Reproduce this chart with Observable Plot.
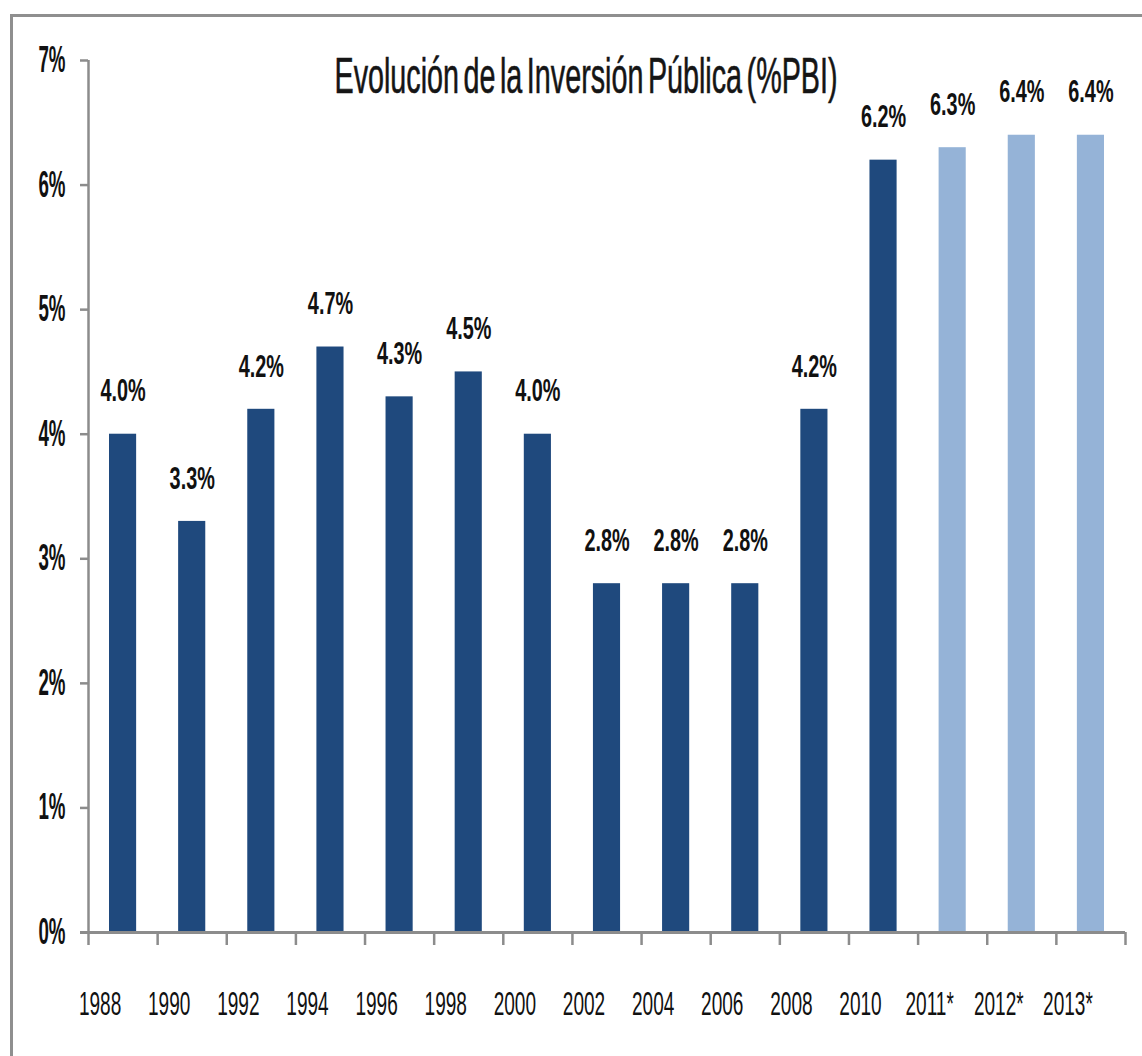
<!DOCTYPE html>
<html>
<head>
<meta charset="utf-8">
<script src="https://cdn.jsdelivr.net/npm/d3@7"></script>
<script src="https://cdn.jsdelivr.net/npm/@observablehq/plot@0.6"></script>
<style>
  html, body { margin: 0; padding: 0; background: #fff; }
  #wrap { position: relative; width: 1142px; height: 1056px; overflow: hidden; background: #fff; font-family: "Liberation Sans", Arial, sans-serif; }
  #frame { position: absolute; left: 10px; top: 14px; width: 1200px; height: 1100px; border-left: 3px solid #8f8f8f; border-top: 3px solid #8f8f8f; }
  #chart { position: absolute; left: 0; top: 0; }
  #title { position: absolute; top: 51px; left: 15px; width: 1142px; height: 50px; line-height: 50px; font-size: 50px; color: #151515; white-space: nowrap; text-align: center; -webkit-text-stroke: 0.6px #151515; word-spacing: -6px; }
  #title span { display: inline-block; transform-origin: center; }
</style>
</head>
<body>
<div id="wrap">
  <div id="frame"></div>
  <div id="chart"></div>
  <div id="title"><span>Evolución de la Inversión Pública (%PBI)</span></div>
</div>
<script>
const categories = ["1988","1990","1992","1994","1996","1998","2000","2002","2004","2006","2008","2010","2011*","2012*","2013*"];
const values = [4.0, 3.3, 4.2, 4.7, 4.3, 4.5, 4.0, 2.8, 2.8, 2.8, 4.2, 6.2, 6.3, 6.4, 6.4];
const projected = [false,false,false,false,false,false,false,false,false,false,false,false,true,true,true];
const yTicks = [0,1,2,3,4,5,6,7];

const data = categories.map((c, i) => ({i, cat: c, value: values[i], proj: projected[i]}));
const axisGray = "#8c8c8c";

const plot = Plot.plot({
  width: 1142,
  height: 1056,
  marginLeft: 88,
  marginRight: 17,
  marginTop: 60,
  marginBottom: 124,
  style: {fontFamily: "'Liberation Sans', Arial, sans-serif", color: "#111", background: "transparent"},
  x: {type: "linear", domain: [0, categories.length], axis: null, label: null},
  y: {domain: [0, 7], axis: null, label: null},
  marks: [
    Plot.rectY(data, {
      x1: d => d.i, x2: d => d.i + 1, y1: 0, y2: "value",
      fill: d => d.proj ? "#95b3d7" : "#1f497d",
      insetLeft: 21, insetRight: 21
    }),
    Plot.ruleX([0], {y1: 0, y2: 7, stroke: axisGray, strokeWidth: 2.5}),
    Plot.ruleY([0], {x1: 0, x2: categories.length, stroke: axisGray, strokeWidth: 3, insetLeft: -8}),
    Plot.axisY(yTicks, {
      tickSize: 8, tickPadding: 15, tickFormat: d => d + "%", label: null,
      stroke: axisGray, strokeWidth: 2.5, fontSize: 36, fontWeight: "bold"
    }),
    Plot.axisX(d3.range(categories.length + 1), {
      tickSize: 13, tickFormat: () => "", label: null, stroke: axisGray, strokeWidth: 2.5
    }),
    Plot.text(data, {
      x: d => d.i + 0.5, y: 0, text: "cat", dy: 72, dx: -23,
      fontSize: 34, fill: "#111"
    }),
    Plot.text(data, {
      x: d => d.i + 0.5, y: "value", text: d => d.value.toFixed(1) + "%", dy: -43,
      fontSize: 32, fontWeight: "bold", fill: "#111"
    })
  ]
});
document.getElementById("chart").appendChild(plot);

plot.querySelectorAll("text").forEach(el => {
  const s = el.textContent;
  let k = null;
  if (/^\d%$/.test(s)) k = 0.52;
  else if (/^\d{4}\*?$/.test(s)) k = 0.56;
  else if (/^\d\.\d%$/.test(s)) k = 0.62;
  if (!k) return;
  const t = el.getAttribute("transform") || "";
  const xa = el.getAttribute("x");
  let pre = "";
  if (xa !== null && !isNaN(+xa)) { pre = ` translate(${+xa},0)`; el.setAttribute("x", 0); }
  el.setAttribute("transform", `${t}${pre} scale(${k},1)`);
});

const span = document.querySelector("#title span");
const w = span.getBoundingClientRect().width;
span.style.transform = `scaleX(${503 / w})`;
</script>
</body>
</html>
